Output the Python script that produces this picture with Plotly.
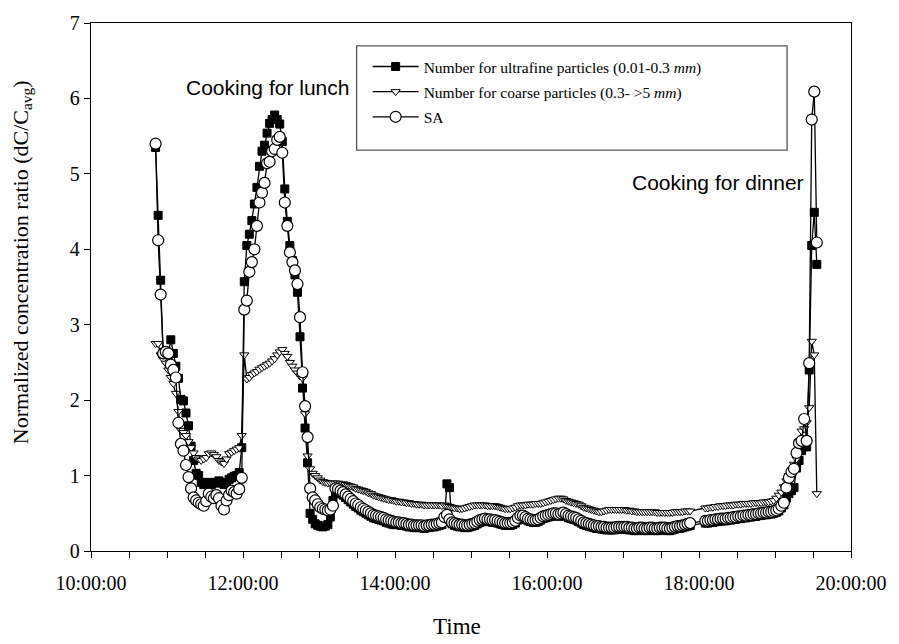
import pandas as pd
import plotly.graph_objects as go

# Sampling: one reading every 2 minutes, 10:51 -> 19:33
sample_start = "2000-01-01 10:51"
sample_count = 262
times = pd.date_range(sample_start, periods=sample_count, freq="2min")

# Number concentration ratio, ultrafine particles (0.01-0.3 mm)
ultrafine = [
    5.35, 4.45, 3.59, 2.62, 2.60,
    2.60, 2.80, 2.62, 2.45, 2.29, 2.01, 1.99, 1.83, 1.66, 1.39, 1.20, 1.03, 1.00, 0.91, 0.88,
    0.90, 0.91, 0.88, 0.90, 0.91, 0.93, 0.90, 0.88, 0.91, 0.95, 0.97, 0.99, 1.00, 1.04, 1.37,
    3.57, 4.05, 4.20, 4.38, 4.60, 4.82, 5.10, 5.30, 5.38, 5.54, 5.67, 5.72, 5.78, 5.72, 5.66,
    5.43, 4.80, 4.37, 4.05, 3.85, 3.66, 3.43, 2.84, 2.16, 1.63, 1.17, 0.50, 0.42, 0.36, 0.34,
    0.33, 0.32, 0.33, 0.35, 0.45, 0.67, 0.78, 0.78, 0.76, 0.74, 0.71, 0.68, 0.65, 0.62, 0.59,
    0.57, 0.54, 0.52, 0.50, 0.48, 0.46, 0.44, 0.43, 0.42, 0.41, 0.40, 0.38, 0.37, 0.36, 0.35,
    0.35, 0.35, 0.34, 0.34, 0.33, 0.32, 0.32, 0.31, 0.31, 0.31, 0.31, 0.30, 0.31, 0.31, 0.32,
    0.32, 0.33, 0.34, 0.35, 0.42, 0.89, 0.84, 0.36, 0.34, 0.33, 0.32, 0.32, 0.31, 0.31, 0.32,
    0.33, 0.34, 0.36, 0.38, 0.39, 0.40, 0.39, 0.39, 0.38, 0.38, 0.37, 0.36, 0.35, 0.34, 0.34,
    0.34, 0.35, 0.37, 0.41, 0.44, 0.44, 0.42, 0.40, 0.39, 0.38, 0.38, 0.39, 0.41, 0.43, 0.44,
    0.45, 0.46, 0.47, 0.47, 0.46, 0.47, 0.48, 0.46, 0.44, 0.43, 0.42, 0.41, 0.39, 0.37, 0.35,
    0.34, 0.33, 0.32, 0.31, 0.30, 0.30, 0.29, 0.29, 0.28, 0.28, 0.28, 0.28, 0.29, 0.29, 0.29,
    0.29, 0.29, 0.28, 0.28, 0.27, 0.27, 0.28, 0.28, 0.27, 0.27, 0.28, 0.28, 0.27, 0.27, 0.28,
    0.28, 0.28, 0.27, 0.27, 0.28, 0.29, 0.30, 0.30, 0.31, 0.32, 0.33, 0.34, None, None, None,
    None, None, 0.37, 0.37, 0.38, 0.38, 0.39, 0.39, 0.40, 0.40, 0.40, 0.41, 0.41, 0.42, 0.42,
    0.43, 0.43, 0.44, 0.44, 0.45, 0.45, 0.46, 0.46, 0.47, 0.47, 0.48, 0.48, 0.49, 0.49, 0.50,
    0.51, 0.53, 0.57, 0.61, 0.70, 0.76, 0.80, 0.84, 1.10, 1.20, 1.33, 1.40, 1.38, 2.40, 4.05,
    4.49, 3.80,
]

# Number concentration ratio, coarse particles (0.3- >5 mm)
coarse = [
    2.75, 2.75, 2.60, 2.54, 2.49,
    2.40, 2.30, 2.22, 2.09, 1.85, 1.60, 1.57, 1.53, 1.45, 1.37, 1.30, 1.24, 1.22, 1.20, 1.22,
    1.24, 1.29, 1.30, 1.28, 1.25, 1.20, 1.18, 1.16, 1.22, 1.29, 1.31, 1.33, 1.35, 1.37, 1.53,
    2.60, 2.28, 2.30, 2.34, 2.36, 2.38, 2.41, 2.43, 2.45, 2.47, 2.49, 2.52, 2.55, 2.60, 2.64,
    2.67, 2.62, 2.58, 2.50, 2.45, 2.40, 2.36, 2.32, 2.29, 1.82, 1.26, 1.09, 1.03, 1.00, 0.97,
    0.94, 0.92, 0.91, 0.90, 0.90, 0.90, 0.90, 0.90, 0.89, 0.89, 0.88, 0.87, 0.86, 0.85, 0.83,
    0.82, 0.81, 0.80, 0.79, 0.77, 0.76, 0.74, 0.73, 0.72, 0.71, 0.70, 0.69, 0.68, 0.68, 0.67,
    0.66, 0.66, 0.65, 0.65, 0.64, 0.64, 0.63, 0.63, 0.62, 0.62, 0.62, 0.61, 0.61, 0.61, 0.61,
    0.61, 0.61, 0.61, 0.60, 0.61, 0.60, 0.59, 0.58, 0.57, 0.57, 0.56, 0.56, 0.57, 0.58, 0.59,
    0.60, 0.61, 0.61, 0.61, 0.61, 0.61, 0.60, 0.60, 0.60, 0.60, 0.59, 0.58, 0.57, 0.56, 0.56,
    0.56, 0.57, 0.58, 0.60, 0.61, 0.61, 0.61, 0.62, 0.62, 0.62, 0.63, 0.63, 0.63, 0.64, 0.65,
    0.66, 0.67, 0.68, 0.69, 0.70, 0.70, 0.69, 0.67, 0.66, 0.65, 0.64, 0.63, 0.62, 0.60, 0.58,
    0.57, 0.56, 0.55, 0.54, 0.53, 0.52, 0.52, 0.53, 0.54, 0.55, 0.55, 0.55, 0.55, 0.55, 0.55,
    0.55, 0.54, 0.54, 0.53, 0.53, 0.52, 0.52, 0.52, 0.52, 0.52, 0.52, 0.52, 0.52, 0.51, 0.51,
    0.51, 0.51, 0.51, 0.51, 0.51, 0.52, 0.52, 0.52, 0.52, 0.53, 0.53, 0.53, None, None, None,
    None, None, 0.57, 0.57, 0.58, 0.58, 0.59, 0.59, 0.60, 0.60, 0.60, 0.61, 0.61, 0.61, 0.62,
    0.62, 0.62, 0.63, 0.63, 0.63, 0.63, 0.64, 0.64, 0.64, 0.64, 0.65, 0.65, 0.65, 0.66, 0.67,
    0.70, 0.74, 0.78, 0.85, 0.93, 1.00, 1.05, 1.15, 1.22, 1.45, 1.59, 1.62, 1.70, 1.90, 2.78,
    2.60, 0.76,
]

# Surface area concentration ratio
surface_area = [
    5.40, 4.12, 3.40, 2.62, 2.64,
    2.62, 2.47, 2.40, 2.30, 1.70, 1.42, 1.33, 1.14, 0.98, 0.83, 0.71, 0.67, 0.64, 0.62, 0.60,
    0.66, 0.76, 0.72, 0.70, 0.74, 0.70, 0.60, 0.55, 0.67, 0.74, 0.80, 0.78, 0.76, 0.82, 0.97,
    3.20, 3.32, 3.70, 3.83, 4.00, 4.31, 4.62, 4.75, 4.88, 5.14, 5.16, 5.30, 5.33, 5.45, 5.49,
    5.28, 4.62, 4.31, 3.96, 3.83, 3.72, 3.54, 3.10, 2.37, 1.92, 1.51, 0.83, 0.71, 0.67, 0.62,
    0.58, 0.56, 0.55, 0.54, 0.55, 0.60, 0.83, 0.82, 0.80, 0.78, 0.75, 0.72, 0.69, 0.66, 0.63,
    0.61, 0.58, 0.56, 0.54, 0.52, 0.50, 0.48, 0.47, 0.46, 0.45, 0.44, 0.42, 0.41, 0.40, 0.39,
    0.38, 0.38, 0.37, 0.37, 0.36, 0.35, 0.35, 0.34, 0.34, 0.34, 0.34, 0.33, 0.34, 0.34, 0.35,
    0.35, 0.36, 0.37, 0.38, 0.45, 0.48, 0.42, 0.38, 0.37, 0.36, 0.35, 0.35, 0.34, 0.34, 0.35,
    0.36, 0.37, 0.39, 0.41, 0.42, 0.43, 0.42, 0.42, 0.41, 0.41, 0.40, 0.39, 0.38, 0.37, 0.37,
    0.37, 0.38, 0.40, 0.44, 0.47, 0.47, 0.45, 0.43, 0.42, 0.41, 0.41, 0.42, 0.44, 0.46, 0.47,
    0.48, 0.49, 0.50, 0.50, 0.49, 0.50, 0.51, 0.49, 0.47, 0.46, 0.45, 0.44, 0.42, 0.40, 0.38,
    0.37, 0.36, 0.35, 0.34, 0.33, 0.33, 0.32, 0.32, 0.31, 0.31, 0.31, 0.31, 0.32, 0.32, 0.32,
    0.32, 0.32, 0.31, 0.31, 0.30, 0.30, 0.31, 0.31, 0.30, 0.30, 0.31, 0.31, 0.30, 0.30, 0.31,
    0.31, 0.31, 0.30, 0.30, 0.31, 0.32, 0.33, 0.33, 0.34, 0.35, 0.36, 0.37, None, None, None,
    None, None, 0.40, 0.40, 0.41, 0.41, 0.42, 0.42, 0.43, 0.43, 0.43, 0.44, 0.44, 0.45, 0.45,
    0.46, 0.46, 0.47, 0.47, 0.48, 0.48, 0.49, 0.49, 0.50, 0.50, 0.51, 0.51, 0.52, 0.52, 0.53,
    0.54, 0.56, 0.60, 0.64, 0.84, 0.97, 1.05, 1.09, 1.30, 1.43, 1.46, 1.75, 1.46, 2.49, 5.72,
    6.09, 4.09,
]

series_names = [
    "Number for ultrafine particles (0.01-0.3 <i>mm</i>)",
    "Number for coarse particles (0.3- >5 <i>mm</i>)",
    "SA",
]

SERIF = "Liberation Serif, Times New Roman, serif"
SANS = "Liberation Sans, Arial, sans-serif"

TWO_HOURS_MS = 2 * 3600 * 1000
HALF_HOUR_MS = 30 * 60 * 1000

fig = go.Figure()

styles = [
    dict(symbol="square", size=8, color="black", line=dict(color="black", width=1)),
    dict(symbol="triangle-down", size=8, color="white", line=dict(color="black", width=1)),
    dict(symbol="circle", size=11, color="white", line=dict(color="black", width=1.2)),
]
for i, (name, vals, mk) in enumerate(zip(series_names, [ultrafine, coarse, surface_area], styles)):
    fig.add_trace(go.Scatter(
        x=times, y=vals, name=name, mode="lines+markers",
        line=dict(color="black", width=1.3),
        marker=mk, connectgaps=True,
        legendgroup=f"g{i}",
    ))

fig.update_layout(
    width=899, height=644,
    margin=dict(l=91, r=47, t=19, b=93),
    paper_bgcolor="white", plot_bgcolor="white",
    font=dict(family=SERIF, color="black"),
    showlegend=True,
    legend=dict(
        x=0.364, y=0.949, xanchor="left", yanchor="top",
        bgcolor="rgba(0,0,0,0)", borderwidth=0,
        font=dict(family=SERIF, size=15.5, color="black"),
        itemwidth=46, tracegroupgap=2, traceorder="grouped",
    ),
    shapes=[dict(
        type="rect", xref="paper", yref="paper",
        x0=0.3495, x1=0.9159, y0=0.7594, y1=0.9568,
        line=dict(color="#555555", width=1.3), fillcolor="rgba(0,0,0,0)", layer="below",
    )],
    annotations=[
        dict(x="2000-01-01 12:19", y=6.14, xref="x", yref="y", text="Cooking for lunch",
             showarrow=False, font=dict(family=SANS, size=21, color="black")),
        dict(x="2000-01-01 18:15", y=4.88, xref="x", yref="y", text="Cooking for dinner",
             showarrow=False, font=dict(family=SANS, size=21, color="black")),
        # axis titles
        dict(x=0.481, y=-0.143, xref="paper", yref="paper", text="Time",
             showarrow=False, xanchor="center", yanchor="middle",
             font=dict(family=SERIF, size=23, color="black")),
        dict(x=-0.0907, y=0.547, xref="paper", yref="paper",
             text="Normalized concentration ratio (dC/C<sub>avg</sub>)",
             textangle=-90, showarrow=False, xanchor="center", yanchor="middle",
             font=dict(family=SERIF, size=22, color="black")),
    ],
)

fig.update_xaxes(
    type="date",
    range=["2000-01-01 10:00", "2000-01-01 20:00"],
    tickmode="linear", tick0="2000-01-01 10:00", dtick=TWO_HOURS_MS,
    tickformat="%H:%M:%S",
    ticks="outside", ticklen=6, tickwidth=1, tickcolor="black",
    minor=dict(tick0="2000-01-01 10:00", dtick=HALF_HOUR_MS, ticks="outside",
               ticklen=6, tickwidth=1, tickcolor="black", showgrid=False),
    ticklabelstandoff=8,
    tickfont=dict(family=SERIF, size=20, color="black"),
    showline=True, linecolor="black", linewidth=1.3, mirror=True,
    showgrid=False, zeroline=False,
)
fig.update_yaxes(
    range=[0, 7], tickmode="linear", tick0=0, dtick=1,
    ticks="outside", ticklen=6, tickwidth=1, tickcolor="black",
    tickfont=dict(family=SERIF, size=20, color="black"),
    showline=True, linecolor="black", linewidth=1.3, mirror=True,
    showgrid=False, zeroline=False,
)

fig.write_html("out.html")
